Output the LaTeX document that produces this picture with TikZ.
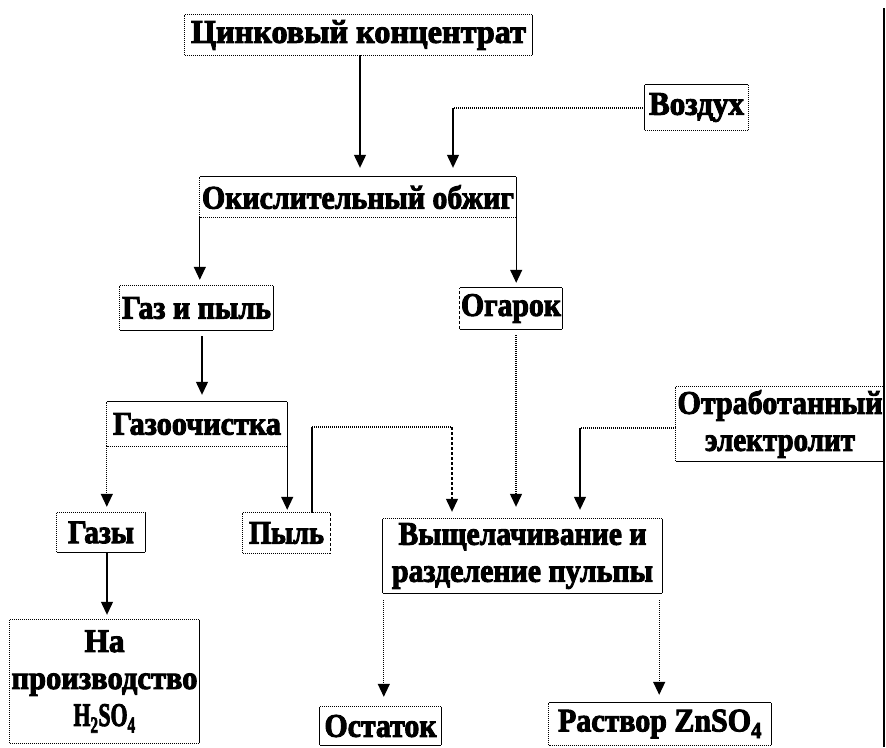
\documentclass[tikz,border=0pt]{standalone}
\usepackage{fontspec}
\usepackage{graphicx}
\newfontfamily\hv{Liberation Serif Bold}[FakeBold=3]
\usetikzlibrary{arrows.meta}
\newcommand\fw[2]{\resizebox{#1pt}{\height}{#2}}
\newcommand\bsides[5]{%
  \draw[#2] (#1.north west) -- (#1.north east);
  \draw[#3] (#1.north east) -- (#1.south east);
  \draw[#4] (#1.south east) -- (#1.south west);
  \draw[#5] (#1.south west) -- (#1.north west);}
\begin{document}
\begin{tikzpicture}[x=1pt,y=-1pt,
  bx/.style={inner sep=0pt, align=center, font=\hv\fontsize{33}{37}\selectfont},
  bsolid/.style={line width=1.2pt, black},
  bdot/.style={line width=1.3pt, black, dash pattern=on 1pt off 1pt},
  bdash/.style={line width=1.3pt, black, dash pattern=on 3pt off 2pt},
  arr/.style={line width=1.2pt, black, shorten >=7pt, -{Triangle[width=12pt,length=13pt]}}]
\fill[white] (0,0) rectangle (886,747);
\useasboundingbox (0,0) rectangle (886,747);

% nodes
\node[bx, minimum width=347pt, minimum height=40pt] (c1) at (358.5,35) {\fw{335}{Цинковый концентрат}};
\node[bx, minimum width=103pt, minimum height=45pt] (air) at (696.5,107.5) {\fw{95}{Воздух}};
\node[bx, minimum width=316pt, minimum height=40pt] (ox) at (358,197) {\fw{312}{Окислительный обжиг}};
\node[bx, minimum width=153pt, minimum height=44pt] (gd) at (196.5,308) {\fw{149}{Газ и пыль}};
\node[bx, minimum width=102pt, minimum height=41pt] (og) at (511,308.5) {\fw{100}{Огарок}};
\node[bx, minimum width=180pt, minimum height=44pt] (gc) at (197,424) {\fw{168}{Газоочистка}};
\node[bx, minimum width=88pt, minimum height=39pt] (gz) at (101,532.5) {\fw{66}{Газы}};
\node[bx, minimum width=87pt, minimum height=40pt] (pl) at (286.5,533) {\fw{75}{Пыль}};
\node[bx, minimum width=208pt, minimum height=74pt] (el) at (780,424) {\fw{205}{Отработанный}\\\fw{150}{электролит}};
\node[bx, minimum width=279pt, minimum height=74pt] (lc) at (522.5,556) {\fw{248}{Выщелачивание и}\\\fw{261}{разделение пульпы}};
\node[bx, minimum width=189pt, minimum height=123pt] (h2) at (104.5,681.5) {\fw{40}{На}\\\fw{186}{производство}\\\fw{62}{H\textsubscript{2}SO\textsubscript{4}}};
\node[bx, minimum width=121pt, minimum height=38pt] (ost) at (380.5,726) {\fw{112}{Остаток}};
\node[bx, minimum width=222pt, minimum height=42pt] (zn) at (660,724) {\fw{204}{Раствор ZnSO\textsubscript{4}}};

% box borders: top, right, bottom, left
\bsides{c1}{bdot}{bsolid}{bdot}{bdot}
\bsides{air}{bsolid}{bdot}{bdot}{bsolid}
\bsides{ox}{bsolid}{bsolid}{bdot}{bdot}
\bsides{gd}{bdot}{bsolid}{bsolid}{bdot}
\bsides{og}{bsolid}{bsolid}{bsolid}{bdash}
\bsides{gc}{bsolid}{bsolid}{bdot}{bdot}
\bsides{gz}{bdot}{bsolid}{bsolid}{bdot}
\bsides{pl}{bdot}{bdash}{bdot}{bdot}
\bsides{el}{bdot}{bsolid}{bsolid}{bdot}
\bsides{lc}{bdot}{bsolid}{bsolid}{bsolid}
\bsides{h2}{bdot}{bsolid}{bdot}{bdot}
\bsides{ost}{bdot}{bsolid}{bsolid}{bsolid}
\bsides{zn}{bsolid}{bsolid}{bdot}{bdot}

% connectors
\draw[arr, shorten >=9pt] ([xshift=1.5pt]c1.south) -- ([xshift=1.5pt]c1.south |- ox.north);
\coordinate (aa) at (453,108);
\draw[bdot] (aa -| air.west) -- (aa);
\draw[arr, shorten >=9pt] (aa) -- (aa |- ox.north);
\draw[arr, shorten >=6pt] (ox.south west) -- (ox.south west |- gd.north);
\draw[arr, shorten >=5pt] (ox.south east) -- (ox.south east |- og.north);
\draw[arr, shorten <=6pt] ([xshift=5.5pt]gd.south) -- ([xshift=5.5pt]gd.south |- gc.north);
\draw[arr, bdot, shorten >=6pt] (gc.south west) -- (gc.south west |- gz.north);
\draw[arr, shorten >=3pt] (gc.south east) -- (gc.south east |- pl.north);
\draw[arr, shorten >=5pt] ([xshift=6pt]gz.south) -- ([xshift=6pt]gz.south |- h2.north);
\coordinate (pa) at (312,427);
\coordinate (pb) at (452,427);
\draw[bsolid] (pa |- pl.north) -- (pa);
\draw[bdot] (pa) -- (pb);
\draw[arr, bdash] (pb) -- (pb |- lc.north);
\draw[arr, bdot, shorten <=6pt, shorten >=12pt] ([xshift=5pt]og.south) -- ([xshift=5pt]og.south |- lc.north);
\coordinate (ea) at (580,428);
\draw[bdot] (ea -| el.west) -- (ea);
\draw[arr, shorten >=9pt] (ea) -- (ea |- lc.north);
\draw[arr, bdot, shorten <=7pt, shorten >=10pt] ([xshift=1pt]lc.south west) -- ([xshift=1pt]lc.south west |- ost.north);
\draw[arr, bdot, shorten <=7pt, shorten >=8pt] ([xshift=-3pt]lc.south east) -- ([xshift=-3pt]lc.south east |- zn.north);
\coordinate (ra) at (884,8);
\coordinate (rb) at (884,747);
\draw[bsolid] (ra) -- (rb);
\end{tikzpicture}
\end{document}
